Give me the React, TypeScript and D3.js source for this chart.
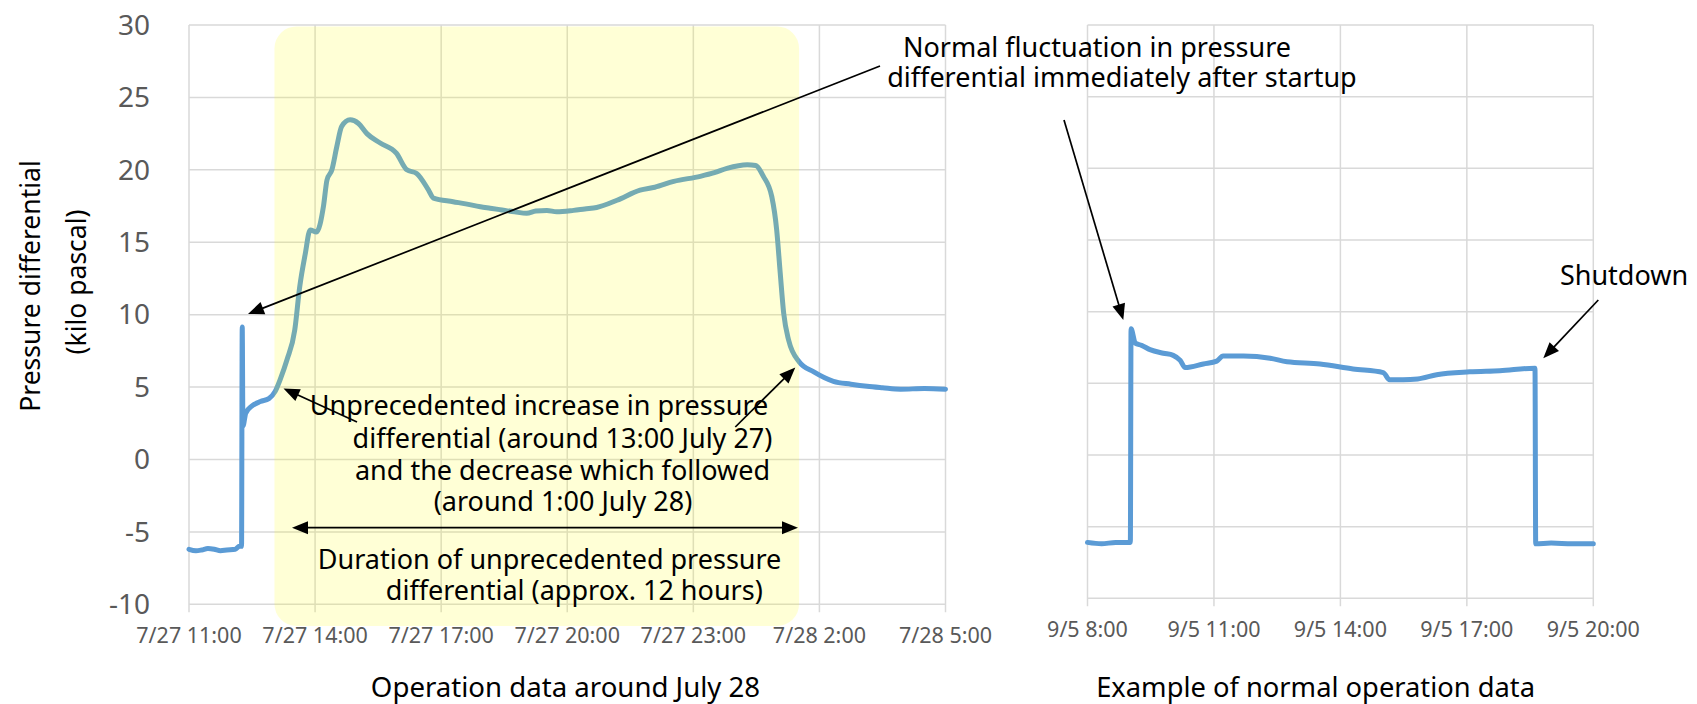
import React from 'react';
import * as d3 from 'd3';

const W = 1697;
const H = 704;

// operation data around July 28 (pressure differential, kPa)
const leftTimes = [
  "7/27 11:00", "7/27 11:10", "7/27 11:18", "7/27 11:27", "7/27 11:36", "7/27 11:45", "7/27 11:54",
  "7/27 12:06", "7/27 12:12", "7/27 12:15",
  "7/27 12:16", "7/27 12:17", "7/27 12:21", "7/27 12:30", "7/27 12:42", "7/27 12:54", "7/27 13:03",
  "7/27 13:10", "7/27 13:20", "7/27 13:31", "7/27 13:38", "7/27 13:46", "7/27 13:53", "7/27 14:02",
  "7/27 14:12", "7/27 14:17", "7/27 14:24", "7/27 14:31", "7/27 14:38", "7/27 14:50", "7/27 15:02",
  "7/27 15:14", "7/27 15:33", "7/27 15:56", "7/27 16:11", "7/27 16:25", "7/27 16:42", "7/27 16:49",
  "7/27 17:17", "7/27 17:35", "7/27 17:56", "7/27 18:10", "7/27 18:24", "7/27 18:45", "7/27 19:02",
  "7/27 19:15", "7/27 19:31", "7/27 19:45", "7/27 20:09", "7/27 20:25", "7/27 20:42",
  "7/27 21:11", "7/27 21:44", "7/27 22:05", "7/27 22:32", "7/27 23:10", "7/27 23:30", "7/27 23:48",
  "7/28 0:17", "7/28 0:29", "7/28 0:40", "7/28 0:52", "7/28 0:59", "7/28 1:04", "7/28 1:09",
  "7/28 1:16", "7/28 1:31", "7/28 1:52", "7/28 2:20", "7/28 2:45", "7/28 3:08", "7/28 3:30",
  "7/28 3:56", "7/28 4:30", "7/28 5:00"
];
const leftValues = [
  -6.2, -6.3, -6.25, -6.15, -6.2, -6.3, -6.25,
  -6.2, -6.0, -6.0,
  9.15, 2.3, 3.2, 3.7, 4.0, 4.2, 4.7,
  5.5, 6.9, 8.95, 11.9, 14.2, 15.85, 15.7,
  17.5, 19.3, 20.0, 21.6, 23.0, 23.45, 23.2,
  22.5, 21.85, 21.15, 20.0, 19.75, 18.6, 18.05,
  17.8, 17.65, 17.45, 17.35, 17.25, 17.1, 17.0,
  17.15, 17.2, 17.1, 17.2, 17.3, 17.4,
  17.9, 18.6, 18.8, 19.2, 19.55, 19.8, 20.1,
  20.35, 20.3, 19.55, 18.15, 15.85, 12.9, 10.1,
  8.25, 6.75, 6.05, 5.4, 5.2, 5.05, 4.95,
  4.85, 4.9, 4.85
];

// example of normal operation data
const rightTimes = [
  "9/5 8:00", "9/5 8:20", "9/5 8:40", "9/5 9:01", "9/5 9:02", "9/5 9:08", "9/5 9:17", "9/5 9:29",
  "9/5 9:48", "9/5 10:02", "9/5 10:12", "9/5 10:19", "9/5 10:45", "9/5 11:04", "9/5 11:13", "9/5 11:42",
  "9/5 12:20", "9/5 12:44", "9/5 13:31", "9/5 14:18", "9/5 15:01", "9/5 15:10", "9/5 15:29",
  "9/5 15:50", "9/5 16:17", "9/5 17:04", "9/5 17:47", "9/5 18:37", "9/5 18:38", "9/5 19:00",
  "9/5 19:30", "9/5 20:00"
];
const rightValues = [
  -6.1, -6.2, -6.1, -6.1, 8.8, 7.8, 7.65, 7.35,
  7.1, 6.95, 6.6, 6.1, 6.35, 6.55, 6.9, 6.9,
  6.75, 6.5, 6.35, 6.0, 5.75, 5.25, 5.25,
  5.3, 5.6, 5.8, 5.88, 6.05, -6.2, -6.15,
  -6.2, -6.2
];

const leftTicks = ["7/27 11:00", "7/27 14:00", "7/27 17:00", "7/27 20:00", "7/27 23:00", "7/28 2:00", "7/28 5:00"];
const rightTicks = ["9/5 8:00", "9/5 11:00", "9/5 14:00", "9/5 17:00", "9/5 20:00"];
const yTicks = [30, 25, 20, 15, 10, 5, 0, -5, -10];

// highlighted period (times and value extent of the yellow box)
const highlightSpan = ["7/27 13:02", "7/28 1:31"];
const highlightValues = [29.9, -11.5];

const parse = d3.timeParse("%m/%d %H:%M");
const FONT = "'Noto Sans', sans-serif";
const BLUE = "#5b9bd5";
const GRID = "#d9d9d9";

function Arrow({ x1, y1, x2, y2, both = false }) {
  const a = Math.atan2(y2 - y1, x2 - x1);
  const L = 16, w = 6.5;
  const head = (x, y, ang) => {
    const bx = x - L * Math.cos(ang), by = y - L * Math.sin(ang);
    const px = -Math.sin(ang) * w, py = Math.cos(ang) * w;
    return `M${x},${y}L${bx + px},${by + py}L${bx - px},${by - py}Z`;
  };
  const sx = both ? x1 + (L - 2) * Math.cos(a) : x1;
  const sy = both ? y1 + (L - 2) * Math.sin(a) : y1;
  const ex = x2 - (L - 2) * Math.cos(a), ey = y2 - (L - 2) * Math.sin(a);
  return (
    <g>
      <line x1={sx} y1={sy} x2={ex} y2={ey} stroke="#000" strokeWidth={1.7} />
      <path d={head(x2, y2, a)} fill="#000" />
      {both && <path d={head(x1, y1, a + Math.PI)} fill="#000" />}
    </g>
  );
}

function Panel({ times, values, ticks, x0, x1, yTop, yBottom, showY }) {
  const x = d3.scaleTime().domain([parse(ticks[0]), parse(ticks[ticks.length - 1])]).range([x0, x1]);
  const y = d3.scaleLinear().domain([-10, 30]).range([yBottom, yTop]);
  const pts = times.map((t, i) => [parse(t), values[i]]);
  const line = d3.line().x(d => x(d[0])).y(d => y(d[1])).curve(d3.curveMonotoneX);
  return { x, y, el: (
    <g>
      {yTicks.map(v => (
        <line key={'h' + v} x1={x0} x2={x1} y1={y(v)} y2={y(v)} stroke={GRID} strokeWidth={1.5} />
      ))}
      {ticks.map(t => (
        <line key={'v' + t} x1={x(parse(t))} x2={x(parse(t))} y1={yTop} y2={yBottom + 8} stroke={GRID} strokeWidth={1.5} />
      ))}
      {ticks.map(t => (
        <text key={'l' + t} x={x(parse(t))} y={yBottom + 39} textAnchor="middle" fontSize={21.5} fill="#595959" fontFamily={FONT}>{t}</text>
      ))}
      {showY && yTicks.map(v => (
        <text key={'y' + v} x={150} y={y(v)} dy="0.35em" textAnchor="end" fontSize={28} fill="#595959" fontFamily={FONT}>{v}</text>
      ))}
      <path d={line(pts)} fill="none" stroke={BLUE} strokeWidth={5} strokeLinejoin="round" strokeLinecap="round" />
    </g>
  ) };
}

export default function App() {
  const left = Panel({ times: leftTimes, values: leftValues, ticks: leftTicks, x0: 189, x1: 945.5, yTop: 25, yBottom: 604.3, showY: true });
  const right = Panel({ times: rightTimes, values: rightValues, ticks: rightTicks, x0: 1087.5, x1: 1593.3, yTop: 25, yBottom: 598.3, showY: false });
  const hx0 = left.x(parse(highlightSpan[0])), hx1 = left.x(parse(highlightSpan[1]));
  const hy0 = left.y(highlightValues[0]), hy1 = left.y(highlightValues[1]);
  const txt = { fontFamily: FONT, fontSize: 27, fill: "#000" };

  return (
    <svg width={W} height={H} style={{ position: 'absolute', left: 0, top: 0, display: 'block', background: '#fff' }}>
      {left.el}
      {right.el}
      <rect x={hx0} y={hy0} width={hx1 - hx0} height={hy1 - hy0} rx={22} fill="#ffff00" fillOpacity={0.16} />

      {/* axis titles */}
      <text transform="translate(40,286) rotate(-90)" textAnchor="middle" {...txt} fontSize={26.5}>Pressure differential</text>
      <text transform="translate(86,282) rotate(-90)" textAnchor="middle" {...txt} fontSize={26.5}>(kilo pascal)</text>
      <text x={565.5} y={697} textAnchor="middle" {...txt} fontSize={27.6}>Operation data around July 28</text>
      <text x={1315.6} y={697} textAnchor="middle" {...txt} fontSize={27.3}>Example of normal operation data</text>

      {/* annotations */}
      <text x={1097} y={56.7} textAnchor="middle" {...txt}>Normal fluctuation in pressure</text>
      <text x={1122} y={86.7} textAnchor="middle" {...txt}>differential immediately after startup</text>
      <Arrow x1={880} y1={66} x2={248} y2={314} />
      <Arrow x1={1064} y1={120} x2={1123.3} y2={320} />

      <text x={1624} y={285} textAnchor="middle" {...txt}>Shutdown</text>
      <Arrow x1={1598.3} y1={300} x2={1543.3} y2={358.3} />

      <text x={539} y={415.3} textAnchor="middle" {...txt}>Unprecedented increase in pressure</text>
      <text x={562.5} y={447.7} textAnchor="middle" {...txt}>differential (around 13:00 July 27)</text>
      <text x={562.5} y={479.7} textAnchor="middle" {...txt}>and the decrease which followed</text>
      <text x={563} y={511} textAnchor="middle" {...txt}>(around 1:00 July 28)</text>
      <Arrow x1={357} y1={422} x2={283.5} y2={388.5} />
      <Arrow x1={735.3} y1={427} x2={795.3} y2={367.5} />

      <Arrow x1={292} y1={527.7} x2={798} y2={527.7} both />
      <text x={549.6} y={568.7} textAnchor="middle" {...txt}>Duration of unprecedented pressure</text>
      <text x={574.3} y={599.7} textAnchor="middle" {...txt}>differential (approx. 12 hours)</text>
    </svg>
  );
}
